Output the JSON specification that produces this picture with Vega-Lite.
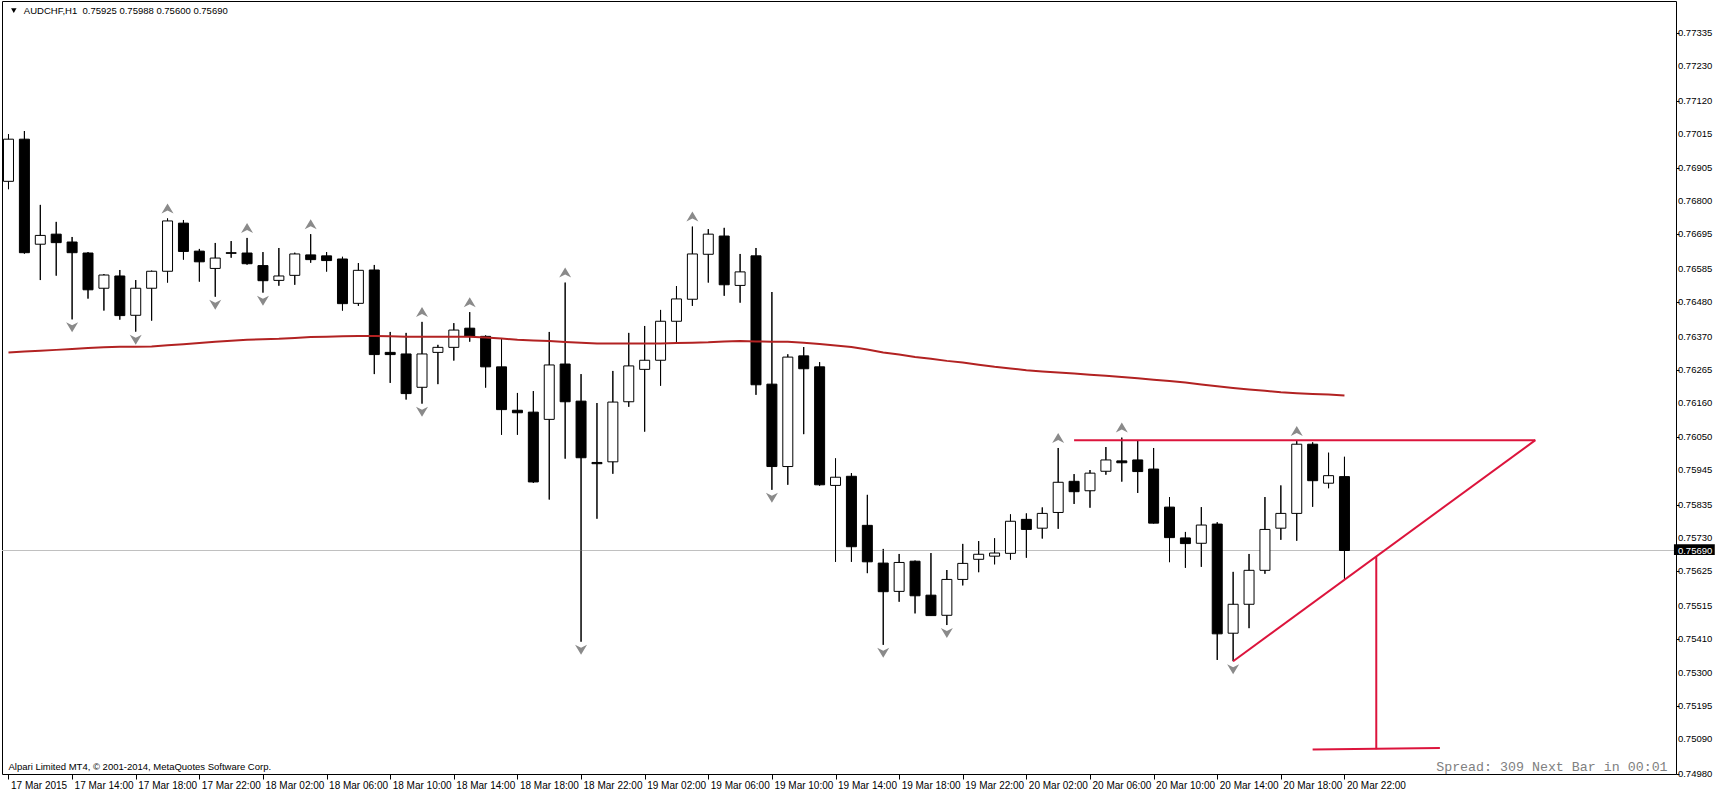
{
  "$schema": "https://vega.github.io/schema/vega-lite/v6.json",
  "autosize": {"type": "none"},
  "width": 1674,
  "height": 773,
  "padding": {"left": 2, "top": 1, "right": 44, "bottom": 19},
  "background": "white",
  "config": {
    "view": {"stroke": "black", "strokeWidth": 1},
    "font": "Liberation Sans",
    "axis": {"labelOverlap": false, "labelBound": false, "labelFlush": false}
  },
  "datasets": {
    "bars": [
      {"t": "2015-03-17T10:00:00Z", "o": 0.76864, "h": 0.77014, "l": 0.76839, "c": 0.76998, "ma": 0.76320},
      {"t": "2015-03-17T11:00:00Z", "o": 0.76998, "h": 0.77024, "l": 0.76634, "c": 0.76637, "ma": 0.76323},
      {"t": "2015-03-17T12:00:00Z", "o": 0.76664, "h": 0.76789, "l": 0.76550, "c": 0.76692, "ma": 0.76325},
      {"t": "2015-03-17T13:00:00Z", "o": 0.76696, "h": 0.76735, "l": 0.76564, "c": 0.76669, "ma": 0.76328},
      {"t": "2015-03-17T14:00:00Z", "o": 0.76671, "h": 0.76687, "l": 0.76425, "c": 0.76637, "ma": 0.76331},
      {"t": "2015-03-17T15:00:00Z", "o": 0.76636, "h": 0.76639, "l": 0.76491, "c": 0.76519, "ma": 0.76334},
      {"t": "2015-03-17T16:00:00Z", "o": 0.76524, "h": 0.76569, "l": 0.76453, "c": 0.76566, "ma": 0.76336},
      {"t": "2015-03-17T17:00:00Z", "o": 0.76563, "h": 0.76582, "l": 0.76424, "c": 0.76437, "ma": 0.76338},
      {"t": "2015-03-17T18:00:00Z", "o": 0.76438, "h": 0.76550, "l": 0.76386, "c": 0.76524, "ma": 0.76338},
      {"t": "2015-03-17T19:00:00Z", "o": 0.76524, "h": 0.76580, "l": 0.76421, "c": 0.76578, "ma": 0.76339},
      {"t": "2015-03-17T20:00:00Z", "o": 0.76578, "h": 0.76746, "l": 0.76542, "c": 0.76738, "ma": 0.76343},
      {"t": "2015-03-17T21:00:00Z", "o": 0.76731, "h": 0.76741, "l": 0.76615, "c": 0.76641, "ma": 0.76346},
      {"t": "2015-03-17T22:00:00Z", "o": 0.76642, "h": 0.76649, "l": 0.76545, "c": 0.76608, "ma": 0.76350},
      {"t": "2015-03-17T23:00:00Z", "o": 0.76587, "h": 0.76668, "l": 0.76497, "c": 0.76620, "ma": 0.76354},
      {"t": "2015-03-18T00:00:00Z", "o": 0.76637, "h": 0.76674, "l": 0.76621, "c": 0.76635, "ma": 0.76357},
      {"t": "2015-03-18T01:00:00Z", "o": 0.76636, "h": 0.76684, "l": 0.76599, "c": 0.76602, "ma": 0.76360},
      {"t": "2015-03-18T02:00:00Z", "o": 0.76596, "h": 0.76639, "l": 0.76510, "c": 0.76548, "ma": 0.76362},
      {"t": "2015-03-18T03:00:00Z", "o": 0.76549, "h": 0.76652, "l": 0.76532, "c": 0.76563, "ma": 0.76363},
      {"t": "2015-03-18T04:00:00Z", "o": 0.76565, "h": 0.76637, "l": 0.76535, "c": 0.76633, "ma": 0.76366},
      {"t": "2015-03-18T05:00:00Z", "o": 0.76630, "h": 0.76696, "l": 0.76605, "c": 0.76615, "ma": 0.76369},
      {"t": "2015-03-18T06:00:00Z", "o": 0.76627, "h": 0.76639, "l": 0.76577, "c": 0.76612, "ma": 0.76370},
      {"t": "2015-03-18T07:00:00Z", "o": 0.76617, "h": 0.76624, "l": 0.76453, "c": 0.76475, "ma": 0.76371},
      {"t": "2015-03-18T08:00:00Z", "o": 0.76476, "h": 0.76604, "l": 0.76468, "c": 0.76581, "ma": 0.76372},
      {"t": "2015-03-18T09:00:00Z", "o": 0.76582, "h": 0.76598, "l": 0.76251, "c": 0.76313, "ma": 0.76372},
      {"t": "2015-03-18T10:00:00Z", "o": 0.76320, "h": 0.76385, "l": 0.76223, "c": 0.76313, "ma": 0.76371},
      {"t": "2015-03-18T11:00:00Z", "o": 0.76315, "h": 0.76382, "l": 0.76170, "c": 0.76189, "ma": 0.76370},
      {"t": "2015-03-18T12:00:00Z", "o": 0.76209, "h": 0.76417, "l": 0.76157, "c": 0.76315, "ma": 0.76370},
      {"t": "2015-03-18T13:00:00Z", "o": 0.76320, "h": 0.76344, "l": 0.76219, "c": 0.76336, "ma": 0.76370},
      {"t": "2015-03-18T14:00:00Z", "o": 0.76336, "h": 0.76413, "l": 0.76294, "c": 0.76391, "ma": 0.76370},
      {"t": "2015-03-18T15:00:00Z", "o": 0.76397, "h": 0.76448, "l": 0.76354, "c": 0.76372, "ma": 0.76370},
      {"t": "2015-03-18T16:00:00Z", "o": 0.76371, "h": 0.76374, "l": 0.76208, "c": 0.76274, "ma": 0.76367},
      {"t": "2015-03-18T17:00:00Z", "o": 0.76274, "h": 0.76365, "l": 0.76058, "c": 0.76138, "ma": 0.76364},
      {"t": "2015-03-18T18:00:00Z", "o": 0.76136, "h": 0.76191, "l": 0.76058, "c": 0.76128, "ma": 0.76360},
      {"t": "2015-03-18T19:00:00Z", "o": 0.76130, "h": 0.76197, "l": 0.75905, "c": 0.75908, "ma": 0.76358},
      {"t": "2015-03-18T20:00:00Z", "o": 0.76107, "h": 0.76385, "l": 0.75852, "c": 0.76280, "ma": 0.76356},
      {"t": "2015-03-18T21:00:00Z", "o": 0.76283, "h": 0.76542, "l": 0.75982, "c": 0.76163, "ma": 0.76353},
      {"t": "2015-03-18T22:00:00Z", "o": 0.76165, "h": 0.76251, "l": 0.75400, "c": 0.75985, "ma": 0.76351},
      {"t": "2015-03-18T23:00:00Z", "o": 0.75970, "h": 0.76159, "l": 0.75791, "c": 0.75966, "ma": 0.76348},
      {"t": "2015-03-19T00:00:00Z", "o": 0.75972, "h": 0.76261, "l": 0.75934, "c": 0.76162, "ma": 0.76348},
      {"t": "2015-03-19T01:00:00Z", "o": 0.76163, "h": 0.76382, "l": 0.76147, "c": 0.76277, "ma": 0.76348},
      {"t": "2015-03-19T02:00:00Z", "o": 0.76266, "h": 0.76404, "l": 0.76068, "c": 0.76295, "ma": 0.76348},
      {"t": "2015-03-19T03:00:00Z", "o": 0.76295, "h": 0.76455, "l": 0.76214, "c": 0.76419, "ma": 0.76348},
      {"t": "2015-03-19T04:00:00Z", "o": 0.76419, "h": 0.76531, "l": 0.76349, "c": 0.76490, "ma": 0.76350},
      {"t": "2015-03-19T05:00:00Z", "o": 0.76489, "h": 0.76720, "l": 0.76468, "c": 0.76633, "ma": 0.76351},
      {"t": "2015-03-19T06:00:00Z", "o": 0.76632, "h": 0.76712, "l": 0.76542, "c": 0.76696, "ma": 0.76352},
      {"t": "2015-03-19T07:00:00Z", "o": 0.76690, "h": 0.76716, "l": 0.76500, "c": 0.76535, "ma": 0.76355},
      {"t": "2015-03-19T08:00:00Z", "o": 0.76533, "h": 0.76633, "l": 0.76478, "c": 0.76576, "ma": 0.76356},
      {"t": "2015-03-19T09:00:00Z", "o": 0.76627, "h": 0.76652, "l": 0.76185, "c": 0.76217, "ma": 0.76355},
      {"t": "2015-03-19T10:00:00Z", "o": 0.76219, "h": 0.76512, "l": 0.75883, "c": 0.75957, "ma": 0.76354},
      {"t": "2015-03-19T11:00:00Z", "o": 0.75957, "h": 0.76314, "l": 0.75899, "c": 0.76305, "ma": 0.76354},
      {"t": "2015-03-19T12:00:00Z", "o": 0.76309, "h": 0.76337, "l": 0.76060, "c": 0.76268, "ma": 0.76351},
      {"t": "2015-03-19T13:00:00Z", "o": 0.76274, "h": 0.76289, "l": 0.75896, "c": 0.75899, "ma": 0.76347},
      {"t": "2015-03-19T14:00:00Z", "o": 0.75897, "h": 0.75983, "l": 0.75654, "c": 0.75923, "ma": 0.76342},
      {"t": "2015-03-19T15:00:00Z", "o": 0.75926, "h": 0.75936, "l": 0.75654, "c": 0.75702, "ma": 0.76337},
      {"t": "2015-03-19T16:00:00Z", "o": 0.75770, "h": 0.75867, "l": 0.75618, "c": 0.75654, "ma": 0.76329},
      {"t": "2015-03-19T17:00:00Z", "o": 0.75650, "h": 0.75695, "l": 0.75390, "c": 0.75559, "ma": 0.76320},
      {"t": "2015-03-19T18:00:00Z", "o": 0.75560, "h": 0.75679, "l": 0.75527, "c": 0.75652, "ma": 0.76313},
      {"t": "2015-03-19T19:00:00Z", "o": 0.75656, "h": 0.75658, "l": 0.75490, "c": 0.75546, "ma": 0.76305},
      {"t": "2015-03-19T20:00:00Z", "o": 0.75548, "h": 0.75682, "l": 0.75483, "c": 0.75483, "ma": 0.76300},
      {"t": "2015-03-19T21:00:00Z", "o": 0.75484, "h": 0.75628, "l": 0.75453, "c": 0.75598, "ma": 0.76293},
      {"t": "2015-03-19T22:00:00Z", "o": 0.75598, "h": 0.75711, "l": 0.75579, "c": 0.75649, "ma": 0.76288},
      {"t": "2015-03-19T23:00:00Z", "o": 0.75662, "h": 0.75720, "l": 0.75621, "c": 0.75678, "ma": 0.76281},
      {"t": "2015-03-20T00:00:00Z", "o": 0.75672, "h": 0.75729, "l": 0.75646, "c": 0.75682, "ma": 0.76274},
      {"t": "2015-03-20T01:00:00Z", "o": 0.75681, "h": 0.75805, "l": 0.75661, "c": 0.75783, "ma": 0.76269},
      {"t": "2015-03-20T02:00:00Z", "o": 0.75789, "h": 0.75808, "l": 0.75667, "c": 0.75757, "ma": 0.76263},
      {"t": "2015-03-20T03:00:00Z", "o": 0.75761, "h": 0.75827, "l": 0.75728, "c": 0.75808, "ma": 0.76259},
      {"t": "2015-03-20T04:00:00Z", "o": 0.75811, "h": 0.76016, "l": 0.75759, "c": 0.75907, "ma": 0.76256},
      {"t": "2015-03-20T05:00:00Z", "o": 0.75910, "h": 0.75933, "l": 0.75838, "c": 0.75877, "ma": 0.76253},
      {"t": "2015-03-20T06:00:00Z", "o": 0.75880, "h": 0.75946, "l": 0.75826, "c": 0.75936, "ma": 0.76249},
      {"t": "2015-03-20T07:00:00Z", "o": 0.75942, "h": 0.76019, "l": 0.75931, "c": 0.75978, "ma": 0.76246},
      {"t": "2015-03-20T08:00:00Z", "o": 0.75975, "h": 0.76049, "l": 0.75909, "c": 0.75969, "ma": 0.76242},
      {"t": "2015-03-20T09:00:00Z", "o": 0.75978, "h": 0.76040, "l": 0.75873, "c": 0.75941, "ma": 0.76238},
      {"t": "2015-03-20T10:00:00Z", "o": 0.75949, "h": 0.76016, "l": 0.75776, "c": 0.75777, "ma": 0.76233},
      {"t": "2015-03-20T11:00:00Z", "o": 0.75828, "h": 0.75860, "l": 0.75653, "c": 0.75731, "ma": 0.76229},
      {"t": "2015-03-20T12:00:00Z", "o": 0.75730, "h": 0.75749, "l": 0.75635, "c": 0.75712, "ma": 0.76224},
      {"t": "2015-03-20T13:00:00Z", "o": 0.75713, "h": 0.75828, "l": 0.75638, "c": 0.75771, "ma": 0.76218},
      {"t": "2015-03-20T14:00:00Z", "o": 0.75774, "h": 0.75780, "l": 0.75342, "c": 0.75425, "ma": 0.76212},
      {"t": "2015-03-20T15:00:00Z", "o": 0.75427, "h": 0.75622, "l": 0.75338, "c": 0.75519, "ma": 0.76207},
      {"t": "2015-03-20T16:00:00Z", "o": 0.75519, "h": 0.75679, "l": 0.75443, "c": 0.75627, "ma": 0.76202},
      {"t": "2015-03-20T17:00:00Z", "o": 0.75627, "h": 0.75860, "l": 0.75616, "c": 0.75757, "ma": 0.76198},
      {"t": "2015-03-20T18:00:00Z", "o": 0.75761, "h": 0.75897, "l": 0.75724, "c": 0.75808, "ma": 0.76193},
      {"t": "2015-03-20T19:00:00Z", "o": 0.75808, "h": 0.76038, "l": 0.75721, "c": 0.76028, "ma": 0.76190},
      {"t": "2015-03-20T20:00:00Z", "o": 0.76028, "h": 0.76034, "l": 0.75829, "c": 0.75912, "ma": 0.76188},
      {"t": "2015-03-20T21:00:00Z", "o": 0.75904, "h": 0.76001, "l": 0.75888, "c": 0.75928, "ma": 0.76186},
      {"t": "2015-03-20T22:00:00Z", "o": 0.75925, "h": 0.75988, "l": 0.75600, "c": 0.75690, "ma": 0.76183}
    ],
    "fractals": [
      {"t": "2015-03-17T20:00:00Z", "p": 0.76746, "dir": "up"},
      {"t": "2015-03-18T01:00:00Z", "p": 0.76684, "dir": "up"},
      {"t": "2015-03-18T05:00:00Z", "p": 0.76696, "dir": "up"},
      {"t": "2015-03-18T12:00:00Z", "p": 0.76417, "dir": "up"},
      {"t": "2015-03-18T15:00:00Z", "p": 0.76448, "dir": "up"},
      {"t": "2015-03-18T21:00:00Z", "p": 0.76542, "dir": "up"},
      {"t": "2015-03-19T05:00:00Z", "p": 0.76720, "dir": "up"},
      {"t": "2015-03-20T04:00:00Z", "p": 0.76016, "dir": "up"},
      {"t": "2015-03-20T08:00:00Z", "p": 0.76049, "dir": "up"},
      {"t": "2015-03-20T19:00:00Z", "p": 0.76038, "dir": "up"},
      {"t": "2015-03-17T14:00:00Z", "p": 0.76425, "dir": "down"},
      {"t": "2015-03-17T18:00:00Z", "p": 0.76386, "dir": "down"},
      {"t": "2015-03-17T23:00:00Z", "p": 0.76497, "dir": "down"},
      {"t": "2015-03-18T02:00:00Z", "p": 0.76510, "dir": "down"},
      {"t": "2015-03-18T12:00:00Z", "p": 0.76157, "dir": "down"},
      {"t": "2015-03-18T22:00:00Z", "p": 0.75400, "dir": "down"},
      {"t": "2015-03-19T10:00:00Z", "p": 0.75883, "dir": "down"},
      {"t": "2015-03-19T17:00:00Z", "p": 0.75390, "dir": "down"},
      {"t": "2015-03-19T21:00:00Z", "p": 0.75453, "dir": "down"},
      {"t": "2015-03-20T15:00:00Z", "p": 0.75338, "dir": "down"}
    ],
    "tri": [
      {"t1": "2015-03-20T05:00:00Z", "p1": 0.76041, "t2": "2015-03-21T10:00:00Z", "p2": 0.76041},
      {"t1": "2015-03-20T15:00:00Z", "p1": 0.75338, "t2": "2015-03-21T10:00:00Z", "p2": 0.76041},
      {"t1": "2015-03-21T00:00:00Z", "p1": 0.75670, "t2": "2015-03-21T00:00:00Z", "p2": 0.75058},
      {"t1": "2015-03-20T20:00:00Z", "p1": 0.75057, "t2": "2015-03-21T04:00:00Z", "p2": 0.75062}
    ],
    "yticks": [
      {"p": 0.77335}, {"p": 0.7723}, {"p": 0.7712}, {"p": 0.77015}, {"p": 0.76905}, {"p": 0.768},
      {"p": 0.76695}, {"p": 0.76585}, {"p": 0.7648}, {"p": 0.7637}, {"p": 0.76265}, {"p": 0.7616},
      {"p": 0.7605}, {"p": 0.75945}, {"p": 0.75835}, {"p": 0.7573}, {"p": 0.75625}, {"p": 0.75515},
      {"p": 0.7541}, {"p": 0.753}, {"p": 0.75195}, {"p": 0.7509}, {"p": 0.7498}
    ],
    "one": [{}]
  },
  "layer": [
    {
      "data": {"name": "bars"},
      "mark": {"type": "rule", "color": "black", "strokeWidth": 1},
      "encoding": {
        "x": {
          "field": "t", "type": "temporal", "title": null,
          "scale": {"type": "utc", "domain": [
            {"year": 2015, "month": 3, "date": 17, "hours": 9, "minutes": 54, "seconds": 22, "milliseconds": 500, "utc": true},
            {"year": 2015, "month": 3, "date": 21, "hours": 18, "minutes": 31, "seconds": 52, "milliseconds": 500, "utc": true}
          ]},
          "axis": {
            "title": null,
            "values": [
              {"year": 2015, "month": 3, "date": 17, "hours": 10, "utc": true},
              {"year": 2015, "month": 3, "date": 17, "hours": 14, "utc": true},
              {"year": 2015, "month": 3, "date": 17, "hours": 18, "utc": true},
              {"year": 2015, "month": 3, "date": 17, "hours": 22, "utc": true},
              {"year": 2015, "month": 3, "date": 18, "hours": 2, "utc": true},
              {"year": 2015, "month": 3, "date": 18, "hours": 6, "utc": true},
              {"year": 2015, "month": 3, "date": 18, "hours": 10, "utc": true},
              {"year": 2015, "month": 3, "date": 18, "hours": 14, "utc": true},
              {"year": 2015, "month": 3, "date": 18, "hours": 18, "utc": true},
              {"year": 2015, "month": 3, "date": 18, "hours": 22, "utc": true},
              {"year": 2015, "month": 3, "date": 19, "hours": 2, "utc": true},
              {"year": 2015, "month": 3, "date": 19, "hours": 6, "utc": true},
              {"year": 2015, "month": 3, "date": 19, "hours": 10, "utc": true},
              {"year": 2015, "month": 3, "date": 19, "hours": 14, "utc": true},
              {"year": 2015, "month": 3, "date": 19, "hours": 18, "utc": true},
              {"year": 2015, "month": 3, "date": 19, "hours": 22, "utc": true},
              {"year": 2015, "month": 3, "date": 20, "hours": 2, "utc": true},
              {"year": 2015, "month": 3, "date": 20, "hours": 6, "utc": true},
              {"year": 2015, "month": 3, "date": 20, "hours": 10, "utc": true},
              {"year": 2015, "month": 3, "date": 20, "hours": 14, "utc": true},
              {"year": 2015, "month": 3, "date": 20, "hours": 18, "utc": true},
              {"year": 2015, "month": 3, "date": 20, "hours": 22, "utc": true}
            ],
            "labelExpr": "utcFormat(datum.value, '%d %H') == '17 10' ? '17 Mar 2015' : utcFormat(datum.value, '%d %b %H:%M')",
            "labelAlign": "left", "labelBaseline": "top", "labelOffset": 2, "labelPadding": 1,
            "labelFont": "Liberation Sans", "labelFontSize": 10, "labelColor": "black",
            "tickSize": 5, "tickColor": "black", "domain": false, "grid": false,
            "labelOverlap": false, "labelBound": false, "labelFlush": false, "zindex": 1
          }
        },
        "y": {
          "field": "l", "type": "quantitative", "title": null,
          "scale": {"domain": [0.749793, 0.774374], "nice": false, "zero": false},
          "axis": {
            "title": null, "orient": "right",
            "values": [0.77335, 0.7723, 0.7712, 0.77015, 0.76905, 0.768, 0.76695, 0.76585, 0.7648, 0.7637, 0.76265, 0.7616, 0.7605, 0.75945, 0.75835, 0.7573, 0.75625, 0.75515, 0.7541, 0.753, 0.75195, 0.7509, 0.7498],
            "labels": false,
            "tickSize": 3, "tickColor": "black", "domain": false, "grid": false, "zindex": 1
          }
        },
        "y2": {"field": "h"}
      }
    },
    {
      "data": {"name": "one"},
      "mark": {"type": "rule", "color": "#C0C0C0", "strokeWidth": 1},
      "encoding": {"y": {"datum": 0.7569, "type": "quantitative", "title": null}}
    },
    {
      "data": {"name": "bars"},
      "mark": {"type": "rule", "color": "black", "strokeWidth": 1},
      "encoding": {
        "x": {"field": "t", "type": "temporal", "title": null},
        "y": {"field": "l", "type": "quantitative", "title": null},
        "y2": {"field": "h"}
      }
    },
    {
      "data": {"name": "bars"},
      "mark": {"type": "bar", "width": 10, "stroke": "black", "strokeWidth": 1},
      "encoding": {
        "x": {"field": "t", "type": "temporal", "title": null},
        "y": {"field": "o", "type": "quantitative", "title": null},
        "y2": {"field": "c"},
        "fill": {"condition": {"test": "datum.c >= datum.o", "value": "white"}, "value": "black"}
      }
    },
    {
      "data": {"name": "bars"},
      "mark": {"type": "line", "color": "#B22222", "strokeWidth": 2},
      "encoding": {
        "x": {"field": "t", "type": "temporal", "title": null},
        "y": {"field": "ma", "type": "quantitative", "title": null}
      }
    },
    {
      "data": {"name": "fractals"},
      "mark": {"type": "point", "filled": true, "size": 100, "opacity": 1, "color": "#8A8A8A", "strokeWidth": 0},
      "encoding": {
        "x": {"field": "t", "type": "temporal", "title": null},
        "y": {"field": "p", "type": "quantitative", "title": null},
        "shape": {"field": "dir", "type": "nominal", "legend": null,
          "scale": {"domain": ["up", "down"], "range": ["M0,-3 L1.2,-1 L0,-1.6 L-1.2,-1 Z", "M0,2.6 L1.2,0.6 L0,1.2 L-1.2,0.6 Z"]}}
      }
    },
    {
      "data": {"name": "tri"},
      "mark": {"type": "rule", "color": "#DC143C", "strokeWidth": 2},
      "encoding": {
        "x": {"field": "t1", "type": "temporal", "title": null},
        "x2": {"field": "t2"},
        "y": {"field": "p1", "type": "quantitative", "title": null},
        "y2": {"field": "p2"}
      }
    },
    {
      "data": {"name": "yticks"},
      "mark": {"type": "text", "align": "left", "baseline": "middle", "font": "Liberation Sans", "fontSize": 9.5, "color": "black"},
      "encoding": {
        "x": {"datum": {"year": 2015, "month": 3, "date": 21, "hours": 18, "minutes": 58, "utc": true}, "type": "temporal", "title": null},
        "y": {"field": "p", "type": "quantitative", "title": null},
        "text": {"field": "p", "type": "quantitative", "format": ".5f"}
      }
    },
    {
      "data": {"name": "one"},
      "mark": {"type": "rect", "color": "black"},
      "encoding": {
        "x": {"datum": {"year": 2015, "month": 3, "date": 21, "hours": 18, "minutes": 43, "utc": true}, "type": "temporal", "title": null},
        "x2": {"datum": {"year": 2015, "month": 3, "date": 21, "hours": 21, "minutes": 17, "utc": true}},
        "y": {"datum": 0.7571, "type": "quantitative", "title": null},
        "y2": {"datum": 0.75676}
      }
    },
    {
      "data": {"name": "one"},
      "mark": {"type": "text", "align": "left", "baseline": "middle", "font": "Liberation Sans", "fontSize": 9.5, "color": "white"},
      "encoding": {
        "x": {"datum": {"year": 2015, "month": 3, "date": 21, "hours": 18, "minutes": 58, "utc": true}, "type": "temporal", "title": null},
        "y": {"datum": 0.7569, "type": "quantitative", "title": null},
        "text": {"value": "0.75690"}
      }
    },
    {
      "data": {"name": "one"},
      "mark": {"type": "point", "shape": "triangle-down", "filled": true, "size": 30, "color": "black", "opacity": 1},
      "encoding": {
        "x": {"datum": {"year": 2015, "month": 3, "date": 17, "hours": 10, "minutes": 20, "utc": true}, "type": "temporal", "title": null},
        "y": {"datum": 0.77407, "type": "quantitative", "title": null}
      }
    },
    {
      "data": {"name": "one"},
      "mark": {"type": "text", "align": "left", "baseline": "middle", "font": "Liberation Sans", "fontSize": 9.5, "color": "black"},
      "encoding": {
        "x": {"datum": {"year": 2015, "month": 3, "date": 17, "hours": 10, "minutes": 58, "utc": true}, "type": "temporal", "title": null},
        "y": {"datum": 0.77407, "type": "quantitative", "title": null},
        "text": {"value": "AUDCHF,H1\u00a0\u00a00.75925 0.75988 0.75600 0.75690"}
      }
    },
    {
      "data": {"name": "one"},
      "mark": {"type": "text", "align": "left", "baseline": "middle", "font": "Liberation Sans", "fontSize": 9.5, "color": "black"},
      "encoding": {
        "x": {"datum": {"year": 2015, "month": 3, "date": 17, "hours": 10, "utc": true}, "type": "temporal", "title": null},
        "y": {"datum": 0.75002, "type": "quantitative", "title": null},
        "text": {"value": "Alpari Limited MT4, © 2001-2014, MetaQuotes Software Corp."}
      }
    },
    {
      "data": {"name": "one"},
      "mark": {"type": "text", "align": "right", "baseline": "middle", "font": "Liberation Mono", "fontSize": 13.3, "color": "#808080"},
      "encoding": {
        "x": {"datum": {"year": 2015, "month": 3, "date": 21, "hours": 18, "minutes": 19, "utc": true}, "type": "temporal", "title": null},
        "y": {"datum": 0.75002, "type": "quantitative", "title": null},
        "text": {"value": "Spread: 309 Next Bar in 00:01"}
      }
    }
  ]
}
